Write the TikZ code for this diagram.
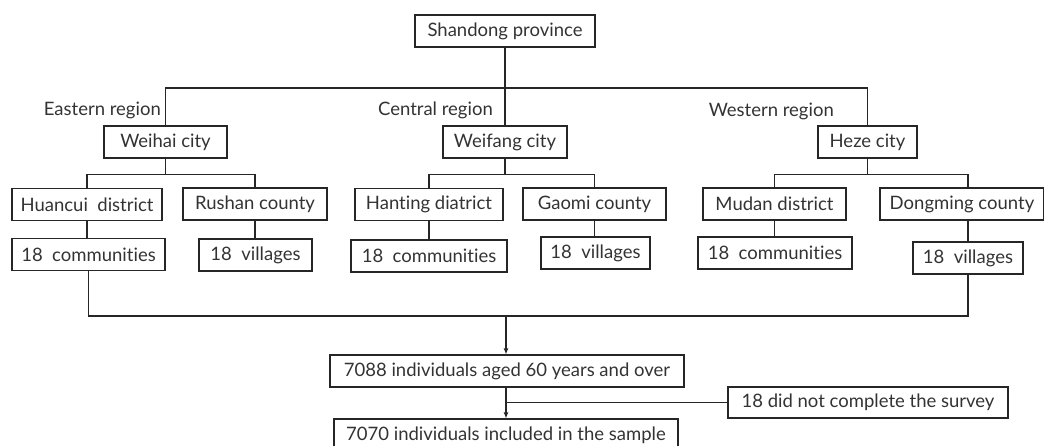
\documentclass[tikz,border=0pt]{standalone}
\usepackage{fontspec}
\setmainfont{Lato}[Ligatures=NoCommon]
\usetikzlibrary{arrows.meta}

\tikzset{
  unitbox/.style={draw=black!85, line width=1.1pt, inner sep=0pt,
    minimum height=32pt, text=black!80, font=\fontsize{18.5}{21}\selectfont},
  regionlabel/.style={inner sep=0pt, anchor=east, text=black!80,
    font=\fontsize{18.5}{21}\selectfont},
  link/.style={draw=black!85, line width=1.1pt},
  flow/.style={link, -{Latex[length=6pt,width=5pt]}}
}

\begin{document}
\begin{tikzpicture}[x=1pt,y=-1pt]
 \useasboundingbox (0,0) rectangle (1044,446);
 \clip (0,0) rectangle (1044,446);

 % province and regions
 \node[unitbox, minimum width=180pt] (shandong) at (505,31) {Shandong province};
 \node[regionlabel] (eastern) at (161,110) {Eastern region};
 \node[regionlabel] (central) at (493,110) {Central region};
 \node[regionlabel] (western) at (834,111) {Western region};

 % cities
 \node[unitbox, minimum width=123pt] (weihai) at (165.5,142) {Weihai city};
 \node[unitbox, minimum width=124pt] (weifang) at (505,142) {Weifang city};
 \node[unitbox, minimum width=99pt] (heze) at (867.5,142) {Heze city};

 % districts and counties
 \node[unitbox, minimum width=150pt] (huancui) at (87,204.5) {Huancui~~district};
 \node[unitbox, minimum width=144pt] (rushan) at (255,204) {Rushan county};
 \node[unitbox, minimum width=148pt] (hanting) at (429,204.5) {Hanting diatrict};
 \node[unitbox, minimum width=143pt] (gaomi) at (594.5,204) {Gaomi county};
 \node[unitbox, minimum width=143pt] (mudan) at (774.5,204) {Mudan district};
 \node[unitbox, minimum width=164pt] (dongming) at (962,204) {Dongming county};

 % communities and villages
 \node[unitbox, minimum width=153pt] (hccomm) at (88.5,254.5) {18~~communities};
 \node[unitbox, minimum width=113pt] (rsvill) at (255.5,255) {18~~villages};
 \node[unitbox, minimum width=156pt] (htcomm) at (429,256) {18~~communities};
 \node[unitbox, minimum width=109pt] (gmvill) at (595.5,253) {18~~villages};
 \node[unitbox, minimum width=154pt] (mdcomm) at (775,253) {18~~communities};
 \node[unitbox, minimum width=110pt] (dmvill) at (968,258) {18~~villages};

 % sample
 \node[unitbox, minimum width=354pt] (total) at (507,371) {7088 individuals aged 60 years and over};
 \node[unitbox, minimum width=280pt, minimum height=31pt] (dropout) at (868,402.5) {18 did not complete the survey};
 \node[unitbox, minimum width=344pt] (sample) at (506,435) {7070 individuals included in the sample};

 % tree
 \coordinate (provbar) at (505,88);
 \draw[link] (shandong.south) -- (provbar);
 \draw[link] (weihai.north) |- (provbar) -| (heze.north);
 \draw[link] (provbar) -- (weifang.north);

 \draw[link] (weihai.south) -- ++(0,16) coordinate (weihaibar);
 \draw[link] (huancui.north) |- (weihaibar) -| (rushan.north);
 \draw[link] (weifang.south) -- ++(0,16) coordinate (weifangbar);
 \draw[link] (hanting.north) |- (weifangbar) -| (gaomi.north);
 \draw[link] (heze.south) -- ++(0,16) coordinate (hezebar);
 \draw[link] (mudan.north) |- (hezebar) -| (dongming.north -| dmvill.north);

 \draw[link] (huancui.south) -- (huancui.south |- hccomm.north);
 \draw[link] (rushan.south) -- (rushan.south |- rsvill.north);
 \draw[link] (hanting.south) -- (htcomm.north);
 \draw[link] (gaomi.south) -- (gaomi.south |- gmvill.north);
 \draw[link] (mudan.south) -- (mudan.south |- mdcomm.north);
 \draw[link] (dongming.south -| dmvill.north) -- (dmvill.north);

 % collect
 \coordinate (collect) at (506,316);
 \draw[link] (hccomm.south) |- (collect) -| (dmvill.south);
 \draw[flow] (collect) -- (collect |- total.north);
 \draw[flow] (collect |- total.south) -- (collect |- sample.north);
 \draw[link] (collect |- dropout.west) -- (dropout.west);

\end{tikzpicture}
\end{document}
